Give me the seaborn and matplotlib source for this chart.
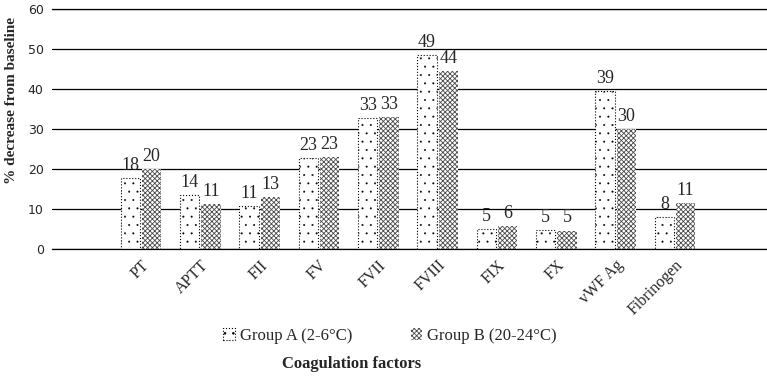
import numpy as np
import pandas as pd
import matplotlib
matplotlib.use("Agg")
import matplotlib.pyplot as plt
from matplotlib.patches import Patch
import seaborn as sns

# data
factors = ["PT", "APTT", "FII", "FV", "FVII", "FVIII", "FIX", "FX", "vWF Ag", "Fibrinogen"]
group_a = [17.8, 13.5, 10.8, 22.7, 32.7, 48.5, 5.0, 4.7, 39.5, 8.0]
group_b = [20.0, 11.3, 13.0, 22.9, 33.0, 44.4, 5.8, 4.6, 30.0, 11.4]
labels_a = [18, 14, 11, 23, 33, 49, 5, 5, 39, 8]
labels_b = [20, 11, 13, 23, 33, 44, 6, 5, 30, 11]
groups = ["Group A (2-6°C)", "Group B (20-24°C)"]

df = pd.DataFrame({
    "factor": factors * 2,
    "value": group_a + group_b,
    "group": [groups[0]] * len(factors) + [groups[1]] * len(factors),
})

sns.set_style("white")
plt.rcParams["hatch.linewidth"] = 0.6
serif = "Liberation Serif"

fig = plt.figure(figsize=(7.67, 3.76), dpi=100)
ax = fig.add_axes([52 / 767, 1 - 249 / 376, 1 - 52 / 767, 240 / 376])

sns.barplot(data=df, x="factor", y="value", hue="group", order=factors,
            hue_order=groups, width=0.72, gap=0.1, ax=ax, legend=False)


def style_a(p):
    p.set_facecolor("white")
    p.set_edgecolor("black")
    p.set_linestyle(":")
    p.set_linewidth(0.8)
    p.set_hatch("..")
    if hasattr(p, "set_hatch_linewidth"):
        p.set_hatch_linewidth(0.2)


def style_b(p):
    p.set_facecolor("white")
    p.set_edgecolor("#4a4a4a")
    p.set_linewidth(0)
    p.set_hatch("xxxxxxx")


bars_a = ax.containers[0]
bars_b = ax.containers[1]
for p in bars_a:
    style_a(p)
for p in bars_b:
    style_b(p)

ax.bar_label(bars_a, labels=[str(v) for v in labels_a], padding=3,
             fontfamily=serif, fontsize=13)
ax.bar_label(bars_b, labels=[str(v) for v in labels_b], padding=3,
             fontfamily=serif, fontsize=13)

ax.set_ylim(0, 60)
ax.set_yticks(range(0, 61, 10))
ax.set_xlim(-1.5, 10.55)
ax.yaxis.grid(True, color="black", linewidth=0.9)
ax.set_axisbelow(True)
for name, s in ax.spines.items():
    if name in ("top", "bottom"):
        s.set_visible(True)
        s.set_color("black")
        s.set_linewidth(0.9)
    else:
        s.set_visible(False)
ax.tick_params(axis="y", length=0, labelsize=9, pad=6)
ax.tick_params(axis="x", length=0, pad=6)
plt.setp(ax.get_xticklabels(), rotation=45, ha="right", rotation_mode="anchor",
         fontfamily=serif, fontsize=11.5)
ax.set_xlabel("")
ax.set_ylabel("")
fig.text(12 / 767, 1 - 100 / 376, "% decrease from baseline", rotation=90,
         ha="center", va="center", fontfamily=serif, fontweight="bold", fontsize=11)

# legend below the plot
h_a = Patch()
style_a(h_a)
h_b = Patch()
style_b(h_b)
fig.legend([h_a, h_b], groups, loc="center", bbox_to_anchor=(390 / 767, 1 - 336 / 376),
           ncol=2, frameon=False, prop={"family": serif, "size": 12},
           handlelength=0.7, handleheight=0.7, handletextpad=0.3, columnspacing=3.5)

fig.text(352 / 767, 1 - 364 / 376, "Coagulation factors", ha="center", va="center",
         fontfamily=serif, fontweight="bold", fontsize=12)

fig.savefig("out.png", dpi=100)
